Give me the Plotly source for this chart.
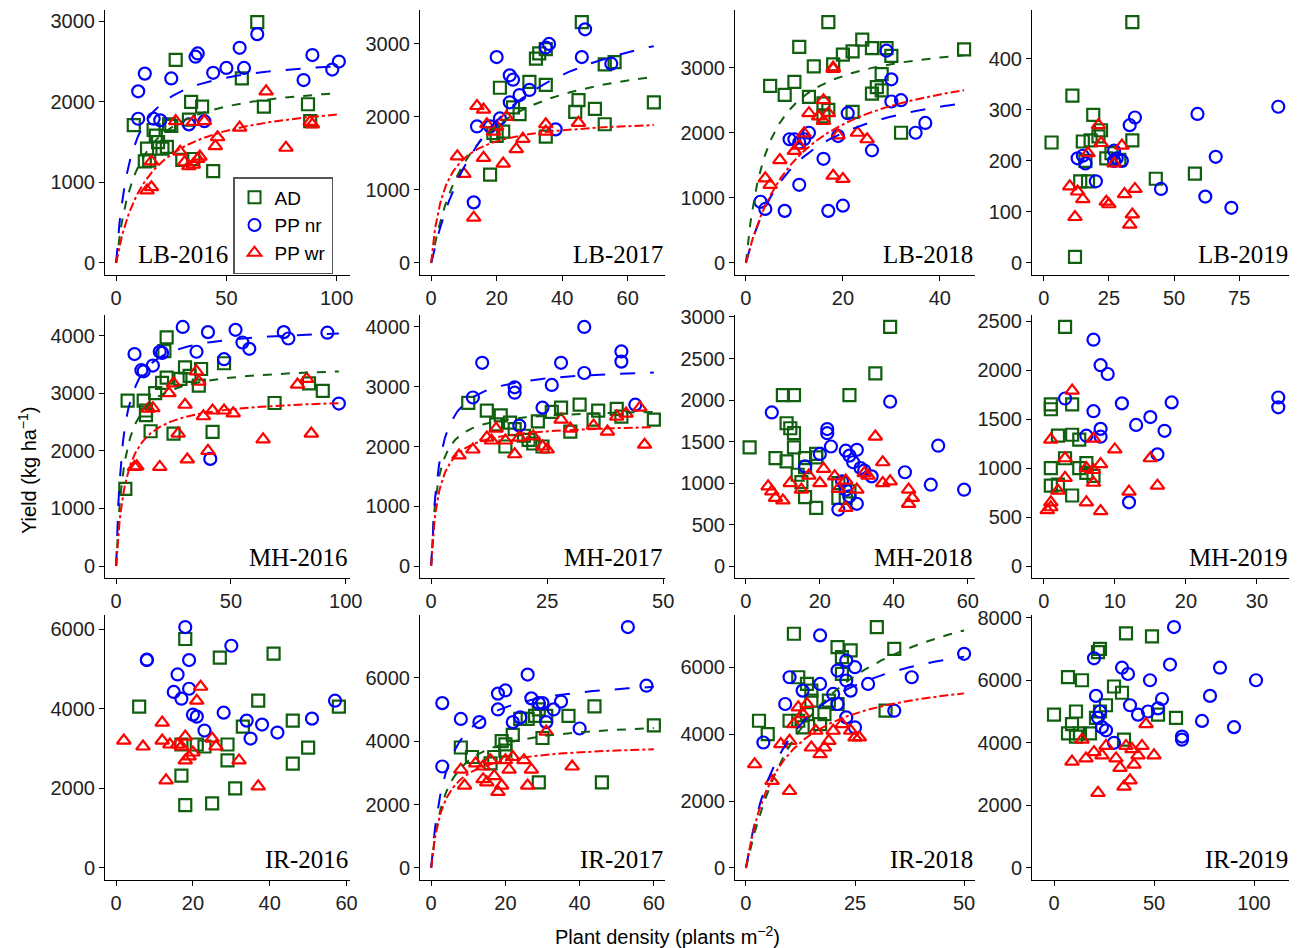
import numpy as np
import plotly.graph_objects as go

# ---- data (x = plants m-2, y = kg/ha) ----
panels = ["LB-2016", "LB-2017", "LB-2018", "LB-2019",
          "MH-2016", "MH-2017", "MH-2018", "MH-2019",
          "IR-2016", "IR-2017", "IR-2018", "IR-2019"]

ad = {
 "LB-2016": [[64,27,57,34,39,33,24,25,18,19,8,14,15,13,21,17,23,35,44,67,87,88,30],
             [2990,2520,2290,2000,1940,1780,1720,1700,1580,1500,1710,1420,1270,1260,1420,1650,1440,1290,1140,1940,1970,1760,1280]],
 "LB-2017": [[46,33,35,32,56,53,45,50,44,35,53,68,21,22,19,20,18,25,27,30,35],
             [3300,2870,2930,2800,2750,2720,2230,2110,2070,1730,1900,2200,2400,1800,1780,1740,1210,2130,2040,2480,2440]],
 "LB-2018": [[17,22,24,26,28,29,30,45,11,10,5,8,13,16,16,17,22,26,27,28,18,14,32,20],
             [3700,3250,3430,3300,2900,3300,3180,3280,3320,2780,2720,2580,2550,2450,2250,2350,2320,2600,2700,2650,3050,3020,2000,3200]],
 "LB-2019": [[34,11,19,21,15,18,22,16,17,14,24,26,29,34,43,58,3,12],
             [472,328,290,248,238,240,260,200,160,160,205,215,202,240,165,175,236,12]],
 "MH-2016": [[22,21,5,4,12,13,13,15,17,20,22,25,30,32,36,37,42,47,69,84,90,28],
             [3970,3730,2870,1340,2870,2620,2700,2340,3000,3180,3270,2300,3450,3300,3130,3420,2330,3520,2830,3170,3040,3250]],
 "MH-2017": [[8,12,15,14,17,18,20,21,22,23,26,28,30,32,35,36,40,41,48,16,24],
             [2730,2600,2520,2370,2400,2290,2180,2110,2050,2420,2580,2650,2250,2700,2450,2600,2630,2500,2450,2000,2000]],
 "MH-2018": [[39,35,28,10,13,11,12,13,13,19,19,16,8,1,11,15,14,16,19,25,27,28,25,16],
             [2880,2320,2060,2060,2060,1720,1660,1600,1430,1350,1310,1190,1300,1430,1260,1010,1100,830,700,820,820,900,1000,1300]],
 "MH-2019": [[3,1,1,2,4,4,5,3,1,5,6,1,2,4,6,7],
             [2440,1650,1600,1330,1340,1650,1290,1100,1000,1000,950,820,830,720,1050,920]],
 "IR-2016": [[6,18,27,41,37,17,21,23,29,29,17,18,25,31,46,46,50,58,33],
             [4050,5750,5280,5380,4200,3100,3100,3050,3100,2700,2320,1580,1620,2000,3700,2620,3020,4050,3550]],
 "IR-2017": [[8,11,17,19,20,22,24,26,28,29,30,31,37,44,60,46,29,20,16],
             [3800,3500,3500,4000,3900,4200,4700,4700,4800,5000,4100,4800,4800,5100,4500,2700,2700,3700,3300]],
 "IR-2018": [[11,21,22,24,30,34,32,14,15,14,12,13,10,12,15,19,18,22,17,21,3,5],
             [7000,6600,6300,6500,7200,6550,4700,5500,5000,4600,4400,4200,4400,5700,5300,5000,4600,5800,4300,4900,4400,4000]],
 "IR-2019": [[0,11,7,14,22,23,26,18,23,21,9,11,13,30,34,36,35,49,52,61,7],
             [4900,5000,6100,6000,6900,7000,5200,4300,5000,4800,4600,4200,4300,5800,5600,7500,4100,7400,4900,4800,4300]],
}

nr = {
 "LB-2016": [[10,37,56,64,89,101,98,85,44,58,25,13,17,20,10,40,33,36,50],
             [2130,2600,2670,2840,2580,2500,2400,2270,2360,2420,2290,2350,1790,1770,1790,1760,1720,2560,2420]],
 "LB-2017": [[47,36,20,25,30,27,24,21,18,14,13,38,55,46,35,24],
             [3200,3000,2820,2510,2370,2300,2200,1980,1870,1870,830,1830,2730,2820,2950,2570]],
 "LB-2018": [[29,30,30,32,35,37,26,19,21,9,10,11,12,16,17,20,13,8,3,4,11],
             [3260,2820,2480,2500,2000,2150,1730,1950,2300,1900,1900,1850,1900,1600,800,880,2000,800,940,830,1200]],
 "LB-2019": [[13,15,16,20,27,28,30,33,35,45,59,62,66,72,90,27],
             [205,210,195,160,200,205,200,270,285,145,292,130,208,108,306,220]],
 "MH-2016": [[8,11,12,16,19,20,29,35,40,47,52,55,58,73,75,92,97,41],
             [3680,3400,3380,3480,3720,3700,4150,3720,4060,3590,4100,3880,3770,4060,3950,4050,2820,1860]],
 "MH-2017": [[11,9,18,18,24,26,28,33,33,41,41,44,19],
             [3400,2820,2990,2900,2650,3030,3400,3230,4000,3590,3420,2700,2350]],
 "MH-2018": [[7,16,22,22,23,27,28,29,30,31,32,26,27,28,30,25,39,43,52,59,50,34,20],
             [1850,1200,1650,1600,1440,1390,1330,1250,1400,1180,1150,1020,920,840,750,680,1980,1130,1450,920,980,1080,1350]],
 "MH-2019": [[7,8,9,7,8,8,11,13,15,16,17,18,33,33,12,6,3],
             [2310,2050,1960,1580,1400,1320,1660,1440,1520,1140,1380,1670,1720,1620,650,1330,1710]],
 "IR-2016": [[8,8,18,19,16,15,17,19,20,21,28,30,34,35,38,42,51,57,23],
             [5220,5230,6050,5220,4860,4420,4250,4500,3850,3800,3900,5580,3700,3250,3600,3400,3750,4200,3450]],
 "IR-2017": [[3,3,8,13,18,18,20,22,24,26,27,29,30,33,35,40,53,58,31],
             [5200,3200,4700,4600,5000,5500,5600,4600,4750,6100,5350,5200,5200,5000,5250,4400,7600,5750,4600]],
 "IR-2018": [[4,10,13,17,17,20,21,23,23,24,25,23,25,28,34,38,50,21,9],
             [3750,5700,5300,6950,5500,5200,5900,6200,5600,5300,6000,4500,4200,5500,4700,5700,6400,4900,4900]],
 "IR-2019": [[20,21,22,23,24,26,30,34,37,38,42,47,48,52,54,58,60,64,64,74,78,83,90,101],
             [6700,5500,4800,5000,4500,4400,4000,6400,6200,5200,4900,5000,6000,5100,5400,6500,7700,4200,4100,4700,5500,6400,4500,6000]],
}

wr = {
 "LB-2016": [[16,16,14,31,33,35,38,35,40,45,46,56,68,77,88,89,29,27,37],
             [1260,940,900,1250,1200,1220,1320,1750,1760,1450,1560,1680,2130,1430,1750,1720,1380,1760,1290]],
 "LB-2017": [[14,16,13,10,8,16,19,20,22,26,28,35,35,45,17,23],
             [2150,2100,620,1220,1460,1440,1800,1870,1360,1560,1700,1900,1800,1920,1900,2000]],
 "LB-2018": [[18,18,16,17,15,13,16,11,10,12,4,5,7,18,20,23,19,25],
             [3000,2980,2500,2300,2250,2300,2180,1800,1720,1990,1300,1200,1580,1340,1290,2000,1960,1900]],
 "LB-2019": [[12,13,15,10,21,24,25,22,27,30,31,34,33,35,17],
             [90,140,125,150,270,120,115,235,195,230,135,95,75,145,215]],
 "MH-2016": [[8,9,14,16,19,23,25,27,31,35,36,38,40,42,47,51,64,79,83,85,30],
             [1720,1730,2730,2740,1720,3000,3170,2300,1850,3380,3200,2600,2000,2700,2700,2650,2200,3150,3250,2300,2800]],
 "MH-2017": [[6,9,12,13,16,18,19,22,24,25,30,35,38,40,42,45,46,14,28],
             [1850,1950,2150,2100,2100,1870,2150,2170,2000,1950,2300,2350,2250,2500,2550,2650,2030,2300,2450]],
 "MH-2018": [[6,7,8,10,12,15,17,20,21,25,24,27,27,32,33,35,37,37,39,44,44,45,30],
             [960,900,820,790,1000,920,1090,1000,1170,930,1080,700,1030,1120,1090,1560,1250,1000,1020,920,750,820,920]],
 "MH-2019": [[4,1,1,0.5,1,2,3,3,6,7,7,7,8,8,10,12,15,16,6],
             [1790,1290,600,570,650,770,900,1100,1000,1300,980,850,560,1040,1190,760,1100,820,650]],
 "IR-2016": [[2,7,12,12,14,16,17,19,18,20,21,22,25,26,13,32,37,18],
             [3200,3050,3650,3200,3100,3100,3050,2800,2700,2900,4200,4550,3250,3050,2200,2700,2050,3300]],
 "IR-2017": [[8,9,12,14,15,16,17,18,19,20,21,22,25,26,27,31,38,14],
             [3100,2600,3300,2800,2700,3400,2900,2400,2600,3400,3100,3500,3400,2600,3100,4300,3200,3200]],
 "IR-2018": [[2,6,8,10,10,11,13,14,15,16,17,18,19,20,22,24,25,26,12],
             [3100,2600,3700,2300,3800,4300,4600,4900,3600,4100,3400,3600,3800,4100,4300,4100,3900,3900,4800]],
 "IR-2019": [[9,16,20,22,24,26,31,33,35,38,39,40,42,44,46,50,14,36],
             [3400,3500,3700,2400,3600,3900,3500,3200,2600,2800,3800,3300,3600,3900,4600,3600,4100,3900]],
}

# fitted hyperbolic yield-density curves: (Ymax, initial slope a)
fits = {
 "LB-2016": {"AD": (2300, 250), "nr": (2600, 400), "wr": (2100, 150)},
 "LB-2017": {"AD": (3000, 250), "nr": (3800, 200), "wr": (2000, 500)},
 "LB-2018": {"AD": (3500, 800), "nr": (3000, 300), "wr": (3300, 300)},
 "MH-2016": {"AD": (3500, 1000), "nr": (4150, 1500), "wr": (2950, 700)},
 "MH-2017": {"AD": (2650, 2000), "nr": (3350, 2000), "wr": (2400, 1500)},
 "IR-2017": {"AD": (4700, 1200), "nr": (6100, 1500), "wr": (3950, 1200)},
 "IR-2018": {"AD": (9300, 600), "nr": (7500, 800), "wr": (6000, 800)},
}

dticks = {
 "LB-2016": (50, 1000), "LB-2017": (20, 1000), "LB-2018": (20, 1000), "LB-2019": (25, 100),
 "MH-2016": (50, 1000), "MH-2017": (25, 1000), "MH-2018": (20, 500), "MH-2019": (10, 500),
 "IR-2016": (20, 2000), "IR-2017": (20, 2000), "IR-2018": (25, 2000), "IR-2019": (50, 2000),
}
# panels whose x axis runs wider than the data
xrange_override = {"IR-2019": [-11, 118]}

GREEN = "#0f5f0f"
BLUE = "#0000ff"
RED = "#ff0000"

# target pixel boxes in the screenshot; the page adds an 8px body margin
W, H, OFF = 1297, 948, 8
xpx = [(105, 350), (420, 665), (735, 975), (1032, 1290)]
ypx = [(10, 275), (315, 578), (615, 880)]
px = lambda v: (v - OFF) / W
py = lambda v: 1 - (v - OFF) / H
xdom = [(px(a), px(b)) for a, b in xpx]
ydom = [(py(b), py(a)) for a, b in ypx]

fig = go.Figure()
series = [("AD", ad, GREEN, "square-open", "dash"),
          ("PP nr", nr, BLUE, "circle-open", "longdash"),
          ("PP wr", wr, RED, "triangle-up-open", "dashdot")]
keys = {"AD": "AD", "PP nr": "nr", "PP wr": "wr"}

for i, p in enumerate(panels):
    r, c = divmod(i, 4)
    n = i + 1
    xa = "x" if n == 1 else f"x{n}"
    ya = "y" if n == 1 else f"y{n}"
    xmax = max(max(d[p][0]) for d in (ad, nr, wr))
    ymax = max(max(d[p][1]) for d in (ad, nr, wr))
    for name, d, col, sym, dash in series:
        fig.add_trace(go.Scatter(
            x=d[p][0], y=d[p][1], mode="markers", name=name,
            marker=dict(symbol=sym, size=12, color=col, line=dict(width=2.2, color=col)),
            showlegend=(i == 0), xaxis=xa, yaxis=ya))
    for name, d, col, sym, dash in series:
        if p in fits:
            M, a = fits[p][keys[name]]
            xs = np.linspace(0, xmax, 200)
            ys = a * xs / (1 + a * xs / M)
            fig.add_trace(go.Scatter(x=xs, y=ys, mode="lines", showlegend=False,
                                     line=dict(color=col, width=2, dash=dash),
                                     xaxis=xa, yaxis=ya, hoverinfo="skip"))
    dx, dy = dticks[p]
    ax = dict(showline=True, linecolor="black", linewidth=1, ticks="outside",
              tickcolor="black", ticklen=5, showgrid=False, zeroline=False, automargin=False,
              tickfont=dict(family="Liberation Sans, Arial", size=20, color="#222"))
    xr = xrange_override.get(p, [-0.05 * xmax, 1.05 * xmax])
    fig.layout[f"xaxis{'' if n == 1 else n}"] = dict(
        ax, domain=xdom[c], anchor=ya, range=xr, dtick=dx, tick0=0)
    fig.layout[f"yaxis{'' if n == 1 else n}"] = dict(
        ax, domain=ydom[r], anchor=xa, range=[-0.05 * ymax, 1.05 * ymax], dtick=dy, tick0=0)
    lx = px(230) if i == 0 else xdom[c][1]
    fig.add_annotation(text=p, xref="paper", yref="paper", x=lx, y=ydom[r][0] + 0.005,
                       xanchor="right", yanchor="bottom", showarrow=False,
                       font=dict(family="Liberation Serif, Times New Roman", size=25, color="black"))

fig.add_annotation(text="Plant density (plants m<sup>−2</sup>)", xref="paper", yref="paper",
                   x=px(668), y=py(935), xanchor="center", yanchor="middle",
                   showarrow=False, font=dict(family="Liberation Sans, Arial", size=20, color="black"))
fig.add_annotation(text="Yield (kg ha<sup>−1</sup>)", xref="paper", yref="paper",
                   x=px(28), y=py(470), textangle=-90, xanchor="center",
                   yanchor="middle", showarrow=False,
                   font=dict(family="Liberation Sans, Arial", size=20, color="black"))

fig.update_layout(
    width=W, height=H, margin=dict(l=0, r=0, t=0, b=0, autoexpand=False),
    plot_bgcolor="white", paper_bgcolor="white",
    legend=dict(x=px(233), y=py(177), xanchor="left", yanchor="top",
                bordercolor="#555", borderwidth=1.5, bgcolor="white",
                font=dict(family="Liberation Sans, Arial", size=19, color="black"),
                tracegroupgap=0, itemsizing="constant", itemwidth=30),
)
fig.write_html("out.html")
